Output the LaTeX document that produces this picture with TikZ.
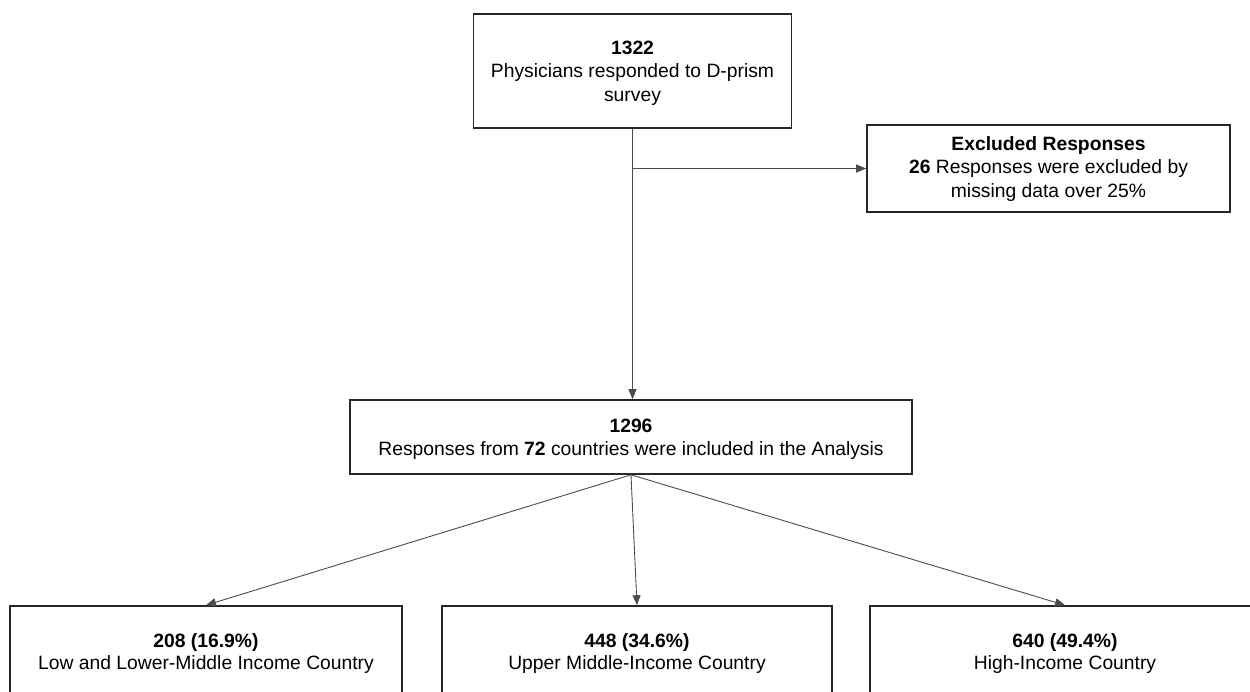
\documentclass[tikz,border=0pt]{standalone}
\usepackage{fontspec}
\setmainfont{Liberation Sans}
\usetikzlibrary{arrows.meta,calc}
\begin{document}
\begin{tikzpicture}[x=1pt,y=-1pt,
  box/.style={draw=black!85,line width=1.6pt,inner sep=0pt},
  ln/.style={anchor=base,inner sep=0pt,font=\fontsize{19.3}{24}\selectfont},
  conn/.style={draw=black!70,line width=0.9pt,-{Triangle[length=10pt,width=8pt]}}]
\useasboundingbox (0,0) rectangle (1250,691);
\clip (0,0) rectangle (1250,691);
% boxes
\node[box,minimum width=318pt,minimum height=114pt] (top) at (632.5,71) {};
\node[box,minimum width=363pt,minimum height=87pt] (exc) at (1048.5,168.5) {};
\node[box,minimum width=562pt,minimum height=74pt] (mid) at (631,437) {};
\node[box,minimum width=392pt,minimum height=94pt] (b1) at (206,653) {};
\node[box,minimum width=390pt,minimum height=94pt] (b2) at (637,653) {};
\node[box,minimum width=390pt,minimum height=94pt] (b3) at (1065,653) {};
% texts
\node[ln] (top1) at (632.5,54) {\textbf{1322}};
\node[ln] (top2) at (632.5,77.5) {Physicians responded to D-prism};
\node[ln] (top3) at (632.5,101) {survey};
\node[ln] (exc1) at (1048.5,150) {\textbf{Excluded Responses}};
\node[ln] (exc2) at (1048.5,173.5) {\textbf{26} Responses were excluded by};
\node[ln] (exc3) at (1048.5,197) {missing data over 25\%};
\node[ln] (mid1) at (631,432) {\textbf{1296}};
\node[ln] (mid2) at (631,455) {Responses from \textbf{72} countries were included in the Analysis};
\node[ln] (b1a) at (206,647) {\textbf{208 (16.9\%)}};
\node[ln] (b1b) at (206,669) {Low and Lower-Middle Income Country};
\node[ln] (b2a) at (637,647) {\textbf{448 (34.6\%)}};
\node[ln] (b2b) at (637,669) {Upper Middle-Income Country};
\node[ln] (b3a) at (1065,647) {\textbf{640 (49.4\%)}};
\node[ln] (b3b) at (1065,669) {High-Income Country};
% connectors
\coordinate (br) at (top.south |- exc.west);
\draw[draw=black!70,line width=0.9pt] (top.south) -- (br);
\draw[conn] (br) -- (exc.west);
\draw[conn] (br) -- (top.south |- mid.north);
\draw[conn] (mid.south) -- (b1.north);
\draw[conn] (mid.south) -- (b2.north);
\draw[conn] (mid.south) -- (b3.north);
\end{tikzpicture}
\end{document}
